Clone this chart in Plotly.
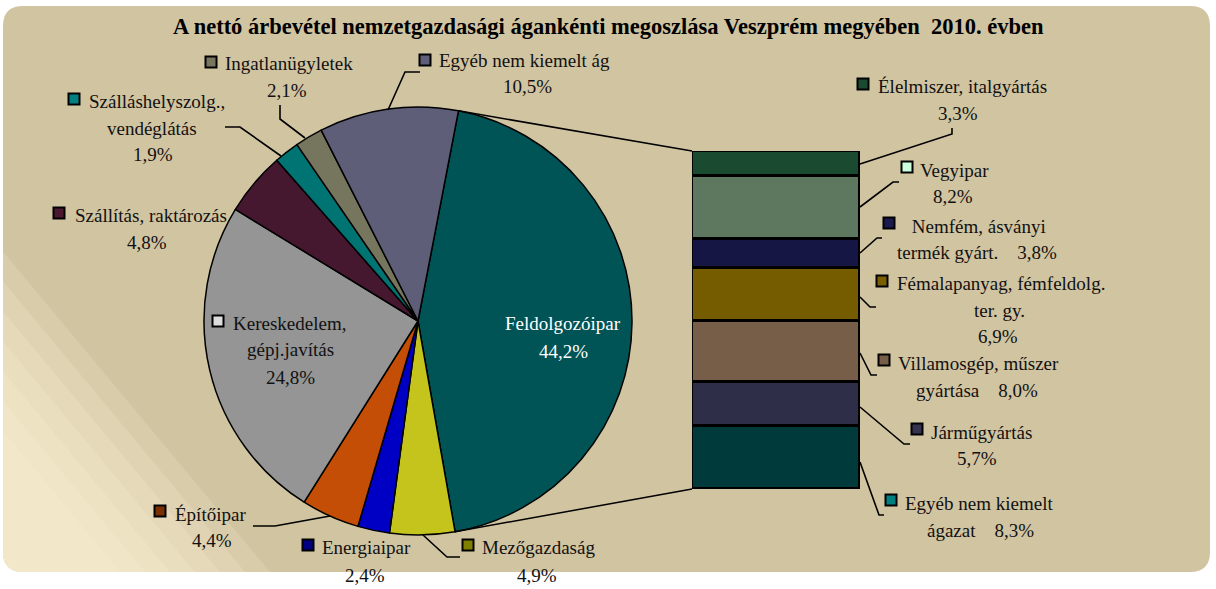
import math
import plotly.graph_objects as go

W, H = 1216, 589

# ---------------- data ----------------
title_text = "A nettó árbevétel nemzetgazdasági ágankénti megoszlása Veszprém megyében  2010. évben"

pie_labels = ["Feldolgozóipar", "Mezőgazdaság", "Energiaipar", "Építőipar",
              "Kereskedelem, gépj.javítás", "Szállítás, raktározás",
              "Szálláshelyszolg., vendéglátás", "Ingatlanügyletek", "Egyéb nem kiemelt ág"]
pie_values = [44.2, 4.9, 2.4, 4.4, 24.8, 4.8, 1.9, 2.1, 10.5]
pie_colors = ["#005456", "#c4c41c", "#0000c4", "#c44e06", "#959595",
              "#461830", "#007373", "#76765f", "#5e5e78"]
pie_marker_colors = [None, "#808000", "#000080", "#7a3000", "#dcdcdc",
                     "#4a1830", "#008080", "#777760", "#5f5f7a"]

bar_labels = ["Élelmiszer, italgyártás", "Vegyipar", "Nemfém, ásványi termék gyárt.",
              "Fémalapanyag, fémfeldolg. ter. gy.", "Villamosgép, műszer gyártása",
              "Járműgyártás", "Egyéb nem kiemelt ágazat"]
bar_values = [3.3, 8.2, 3.8, 6.9, 8.0, 5.7, 8.3]
bar_colors = ["#1a4a30", "#5e7860", "#161644", "#765c00", "#765e48", "#2e2e48", "#003a3a"]
bar_marker_colors = ["#1a4a30", "#ccffdd", "#1a1a50", "#7a5e00", "#765e48", "#333350", "#008080"]

# ---------------- layout helpers ----------------
def fx(x):
    return x / W

def fy(y):
    return 1 - y / H

def fmt(v):
    return f"{v:.1f}".replace(".", ",") + "%"

NB = "\u00a0"

# pie geometry (pixels)
PCX, PCY, PR = 418, 321, 214
# bar geometry (pixels)
BX0, BX1, BY0, BY1 = 692, 860, 151, 489

# label layout: marker centre, first line (left x, y), further lines (text, centre x, y)
pie_label_layout = {
    "Feldolgozóipar": (None, None, [("Feldolgozóipar", 563, 323), ("{v}", 563, 351)]),
    "Mezőgazdaság": ((468, 545), ("Mezőgazdaság", 480, 547), [("{v}", 537, 575)]),
    "Energiaipar": ((308, 545), ("Energiaipar", 320, 547), [("{v}", 365, 575)]),
    "Építőipar": ((160, 511), ("Építőipar", 173, 514), [("{v}", 212, 540)]),
    "Kereskedelem, gépj.javítás": ((218, 321), ("Kereskedelem,", 231, 323),
                                   [("gépj.javítás", 290, 350), ("{v}", 290, 377)]),
    "Szállítás, raktározás": ((59, 213), ("Szállítás, raktározás", 73, 215), [("{v}", 147, 242)]),
    "Szálláshelyszolg., vendéglátás": ((74, 99), ("Szálláshelyszolg.,", 87, 102),
                                       [("vendéglátás", 152, 129), ("{v}", 153, 155)]),
    "Ingatlanügyletek": ((211, 62), ("Ingatlanügyletek", 223, 63), [("{v}", 287, 90)]),
    "Egyéb nem kiemelt ág": ((425, 60), ("Egyéb nem kiemelt ág", 437, 61), [("{v}", 527, 87)]),
}
bar_label_layout = {
    "Élelmiszer, italgyártás": ((863, 84), ("Élelmiszer, italgyártás", 876, 86), [("{v}", 958, 113)]),
    "Vegyipar": ((907, 167), ("Vegyipar", 918, 170), [("{v}", 953, 196)]),
    "Nemfém, ásványi termék gyárt.": ((889, 223), (NB + "Nemfém, ásványi", 905, 226),
                                      [("termék gyárt." + NB * 4 + "{v}", 977, 253)]),
    "Fémalapanyag, fémfeldolg. ter. gy.": ((882, 281), ("Fémalapanyag, fémfeldolg.", 895, 283),
                                           [("ter. gy.", 999, 310), ("{v}", 998, 336)]),
    "Villamosgép, műszer gyártása": ((884, 360), ("Villamosgép, műszer", 896, 363),
                                     [("gyártása" + NB * 4 + "{v}", 977, 390)]),
    "Járműgyártás": ((917, 429), ("Járműgyártás", 929, 432), [("{v}", 977, 458)]),
    "Egyéb nem kiemelt ágazat": ((891, 500), ("Egyéb nem kiemelt", 903, 503),
                                 [("ágazat" + NB * 4 + "{v}", 980, 530)]),
}
leader_lines = [
    [(388, 110), (405, 72), (420, 72)],
    [(305, 138), (280, 119), (280, 105)],
    [(281, 156), (240, 127), (225, 127)],
    [(330, 516), (275, 526), (253, 526)],
    [(423, 535), (447, 557), (460, 557)],
    [(860, 164), (952, 134), (952, 128)],
    [(860, 207), (893, 182), (899, 182)],
    [(860, 253), (877, 238), (882, 238)],
    [(860, 297), (870, 307), (876, 307)],
    [(860, 353), (871, 375), (877, 375)],
    [(860, 407), (904, 444), (910, 444)],
    [(860, 462), (879, 515), (884, 515)],
]

FONT = "Liberation Serif, Times New Roman, serif"
TXT = "#111111"
LABEL_SIZE = 19

fig = go.Figure()

# ---------------- pie ----------------
start_deg = 10.9
fig.add_trace(go.Pie(
    labels=pie_labels, values=pie_values, sort=False, direction="clockwise",
    rotation=start_deg,
    marker=dict(colors=pie_colors, line=dict(color="#000000", width=1.5)),
    textinfo="none", hoverinfo="label+percent",
    domain=dict(x=[fx(PCX - PR), fx(PCX + PR)], y=[fy(PCY + PR), fy(PCY - PR)]),
    showlegend=False,
))

# ---------------- stacked bar ----------------
for lab, val, col in reversed(list(zip(bar_labels, bar_values, bar_colors))):
    fig.add_trace(go.Bar(
        x=[0], y=[val], name=lab, width=[1],
        marker=dict(color=col, line=dict(color="#000000", width=3)),
        showlegend=False, hoverinfo="name+y",
    ))

shapes = []
annotations = []

# background rounded frame
def rrect(x0, y0, x1, y1, r):
    return (f"M{fx(x0 + r)},{fy(y0)} L{fx(x1 - r)},{fy(y0)} Q{fx(x1)},{fy(y0)} {fx(x1)},{fy(y0 + r)} "
            f"L{fx(x1)},{fy(y1 - r)} Q{fx(x1)},{fy(y1)} {fx(x1 - r)},{fy(y1)} "
            f"L{fx(x0 + r)},{fy(y1)} Q{fx(x0)},{fy(y1)} {fx(x0)},{fy(y1 - r)} "
            f"L{fx(x0)},{fy(y0 + r)} Q{fx(x0)},{fy(y0)} {fx(x0 + r)},{fy(y0)} Z")

FX0, FY0, FX1, FY1, FR = 3, 6, 1210, 572, 20
shapes.append(dict(type="path", xref="paper", yref="paper", path=rrect(FX0, FY0, FX1, FY1, FR),
                   fillcolor="#d1c4a1", line=dict(width=0), layer="below"))
# light bottom-left glow (diagonal bands)
slope = 1.2
for xb in [270, 245, 220, 195, 170, 145, 120]:
    ytop = FY1 - (xb - FX0) * slope
    p = (f"M{fx(FX0)},{fy(ytop)} L{fx(FX0)},{fy(FY1 - FR)} Q{fx(FX0)},{fy(FY1)} {fx(FX0 + FR)},{fy(FY1)} "
         f"L{fx(xb)},{fy(FY1)} Z")
    shapes.append(dict(type="path", xref="paper", yref="paper", path=p,
                       fillcolor="#fff3da", opacity=0.18, line=dict(width=0), layer="below"))

# connectors pie -> bar (computed from pie geometry)
feld_frac = pie_values[0] / sum(pie_values)
a0 = math.radians(start_deg)
a1 = math.radians(start_deg + 360 * feld_frac)
p0 = (PCX + PR * math.sin(a0), PCY - PR * math.cos(a0))
p1 = (PCX + PR * math.sin(a1), PCY - PR * math.cos(a1))
for (px_, py_), (bx, by) in [(p0, (BX0, BY0)), (p1, (BX0, BY1))]:
    shapes.append(dict(type="line", xref="paper", yref="paper", x0=fx(px_), y0=fy(py_),
                       x1=fx(bx), y1=fy(by), line=dict(color="#000000", width=1.5)))

# leader lines
for pts in leader_lines:
    path = "M" + " L".join(f"{fx(x)},{fy(y)}" for x, y in pts)
    shapes.append(dict(type="path", xref="paper", yref="paper", path=path,
                       line=dict(color="#000000", width=1.6)))

# labels
def add_labels(layout, labels, values, mcolors, fsize=LABEL_SIZE):
    for lab, val, mc in zip(labels, values, mcolors):
        mk, first, rest = layout[lab]
        color = "#ffffff" if mk is None and first is None else TXT
        if mk is not None:
            mx, my = mk
            s = 5.5
            shapes.append(dict(type="rect", xref="paper", yref="paper",
                               x0=fx(mx - s), x1=fx(mx + s), y0=fy(my + s), y1=fy(my - s),
                               fillcolor=mc, line=dict(color="#000000", width=2)))
        if first is not None:
            t, lx, ly = first
            annotations.append(dict(text=t, x=fx(lx), y=fy(ly), xref="paper", yref="paper",
                                    xanchor="left", yanchor="middle", showarrow=False,
                                    font=dict(family=FONT, size=fsize, color=color)))
        for t, cx, cy in rest:
            annotations.append(dict(text=t.replace("{v}", fmt(val)), x=fx(cx), y=fy(cy),
                                    xref="paper", yref="paper", xanchor="center", yanchor="middle",
                                    showarrow=False, font=dict(family=FONT, size=fsize, color=color)))

add_labels(pie_label_layout, pie_labels, pie_values, pie_marker_colors)
add_labels(bar_label_layout, bar_labels, bar_values, bar_marker_colors)

annotations.append(dict(text="<b>" + title_text + "</b>", x=fx(608), y=fy(27), xref="paper", yref="paper",
                        xanchor="center", yanchor="middle", showarrow=False,
                        font=dict(family=FONT, size=22.5, color="#000000")))

fig.update_layout(
    width=W, height=H, margin=dict(l=0, r=0, t=0, b=0),
    paper_bgcolor="#ffffff", plot_bgcolor="rgba(0,0,0,0)",
    barmode="stack", bargap=0,
    xaxis=dict(domain=[fx(BX0), fx(BX1)], range=[-0.5, 0.5], visible=False, fixedrange=True),
    yaxis=dict(domain=[fy(BY1), fy(BY0)], range=[0, sum(bar_values)], visible=False, fixedrange=True),
    shapes=shapes, annotations=annotations, showlegend=False,
)

fig.write_html("out.html")
